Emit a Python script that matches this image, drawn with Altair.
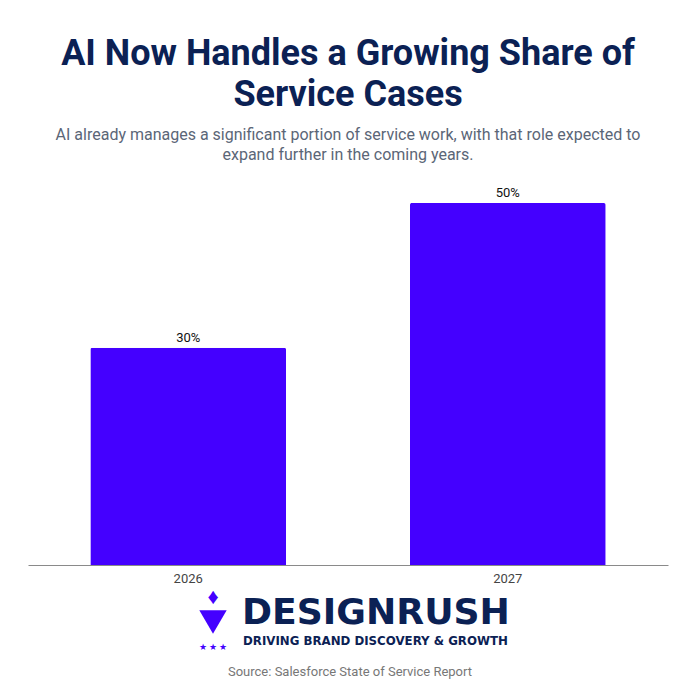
import altair as alt
import pandas as pd

years = ["2026", "2027"]
shares = [30, 50]
labels = ["30%", "50%"]

df = pd.DataFrame({"year": years, "share": shares, "label": labels})

W, H = 640, 362
FONT = "Roboto"
NAVY = "#0b2154"
PURPLE = "#4400ff"
TOP = 203

base = alt.Chart(df)

bars = base.mark_bar(color=PURPLE, cornerRadiusTopLeft=2, cornerRadiusTopRight=2).encode(
    x=alt.X("year:N", title=None, sort=years,
            scale=alt.Scale(paddingInner=0.3875, paddingOuter=0.195),
            axis=alt.Axis(labelAngle=0, ticks=False, labelFont=FONT, labelFontSize=13,
                          labelColor="#444444", labelPadding=7, domainColor="#8a8a8a",
                          domainWidth=1, grid=False)),
    y=alt.Y("share:Q", title=None, scale=alt.Scale(domain=[0, 50]), axis=None),
)

text = base.mark_text(font=FONT, fontSize=13, color="#111111", baseline="bottom", dy=-3).encode(
    x=alt.X("year:N", sort=years),
    y=alt.Y("share:Q"),
    text="label:N",
)

def note(txt, x, y, size, color, weight="normal", align="center", font=FONT, baseline="middle"):
    return alt.Chart(alt.Data(values=[{"t": txt}])).mark_text(
        font=font, fontSize=size, color=color, fontWeight=weight, align=align, baseline=baseline
    ).encode(x=alt.value(x), y=alt.value(y), text="t:N")

logo_word = note("DESIGNRUSH", 214, 624 - TOP, 36.2, NAVY, weight="bold", align="left",
                 font="DejaVu Sans", baseline="alphabetic")
logo_tag = note("DRIVING BRAND DISCOVERY & GROWTH", 215, 645 - TOP, 11.8, NAVY, weight="bold",
                align="left", font="DejaVu Sans", baseline="alphabetic")
stars = note("★ ★ ★", 185, 647 - TOP, 9, PURPLE)
flame = note("♦", 185, 597 - TOP, 22, PURPLE)
vshape = alt.Chart(alt.Data(values=[{"t": 1}])).mark_point(
    shape="triangle-down", filled=True, color=PURPLE, size=750, opacity=1
).encode(x=alt.value(185), y=alt.value(622 - TOP))
source = note("Source: Salesforce State of Service Report", 322, 672 - TOP, 13, "#777777")

chart = alt.layer(bars, text, logo_word, logo_tag, stars, flame, vshape, source).properties(
    width=W, height=H,
    autosize=alt.AutoSizeParams(type="none"),
    padding={"left": 28, "right": 32, "top": TOP, "bottom": 135},
    title=alt.TitleParams(
        text=["AI Now Handles a Growing Share of", "Service Cases"],
        subtitle=["AI already manages a significant portion of service work, with that role expected to",
                  "expand further in the coming years."],
        anchor="middle", font=FONT, fontSize=36, fontWeight="bold", color=NAVY,
        lineHeight=41, subtitleFont=FONT, subtitleFontSize=16, subtitleColor="#5b6677",
        subtitleLineHeight=20, subtitlePadding=13, offset=23,
    ),
).configure(background="white").configure_view(strokeWidth=0, stroke="transparent")

chart.save("out.html", embed_options={"renderer": "svg", "actions": False})
